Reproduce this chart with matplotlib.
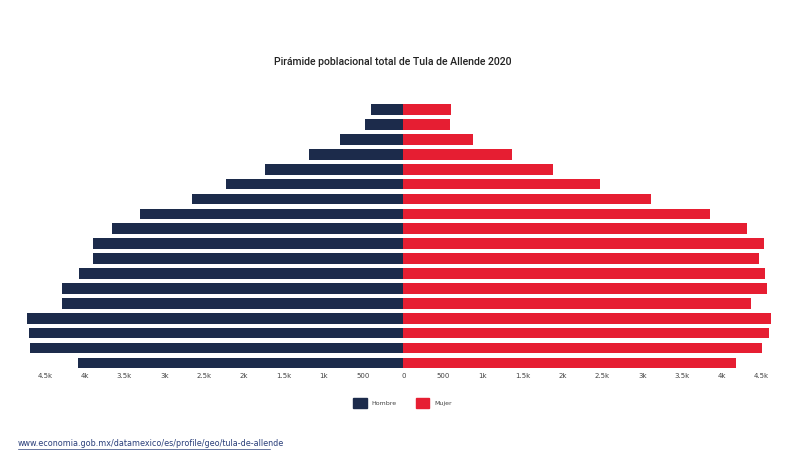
import matplotlib
matplotlib.use("Agg")
import matplotlib.pyplot as plt
from matplotlib.patches import Patch
from matplotlib.lines import Line2D

# age groups, bottom (youngest) to top (oldest)
ages = ["0-4", "5-9", "10-14", "15-19", "20-24", "25-29", "30-34", "35-39",
        "40-44", "45-49", "50-54", "55-59", "60-64", "65-69", "70-74",
        "75-79", "80-84", "85+"]
hombre = [4090, 4690, 4700, 4720, 4290, 4280, 4070, 3900, 3890, 3660,
          3300, 2650, 2230, 1735, 1190, 793, 484, 400]
mujer = [4180, 4500, 4590, 4610, 4370, 4560, 4540, 4470, 4530, 4310,
         3850, 3110, 2470, 1880, 1360, 870, 580, 600]

ticks = [-4500, -4000, -3500, -3000, -2500, -2000, -1500, -1000, -500, 0,
         500, 1000, 1500, 2000, 2500, 3000, 3500, 4000, 4500]
tick_labels = ["4.5k", "4k", "3.5k", "3k", "2.5k", "2k", "1.5k", "1k", "500", "0",
               "500", "1k", "1.5k", "2k", "2.5k", "3k", "3.5k", "4k", "4.5k"]

c_hombre = "#1c2b4b"
c_mujer = "#e61e32"

fig = plt.figure(figsize=(8.05, 4.73), dpi=100)
ax = fig.add_axes([0.031, 0.217, 0.940, 0.567])

y = range(len(ages))
ax.barh(y, [-v for v in hombre], height=0.72, color=c_hombre)
ax.barh(y, mujer, height=0.72, color=c_mujer)

ax.set_xlim(-4750, 4750)
ax.set_ylim(-0.5, len(ages) - 0.5)
ax.set_xticks(ticks)
ax.set_xticklabels(tick_labels, fontsize=5, color="#444444")
ax.set_yticks([])
ax.tick_params(axis="x", length=0, pad=2)
for s in ax.spines.values():
    s.set_visible(False)

fig.text(0.488, 0.869, "Pirámide poblacional total de Tula de Allende 2020",
         ha="center", va="center", fontsize=7.6, fontfamily="Roboto",
         fontweight="medium", color="#222222")

handles = [Patch(color=c_hombre, label="Hombre"), Patch(color=c_mujer, label="Mujer")]
fig.legend(handles=handles, loc="center", bbox_to_anchor=(0.5, 0.148), ncol=2,
           frameon=False, fontsize=4.5, handlelength=2.2, handleheight=2.2,
           columnspacing=3, handletextpad=0.8, labelcolor="#444444")

src = "www.economia.gob.mx/datamexico/es/profile/geo/tula-de-allende"
fig.text(0.022, 0.053, src, ha="left", va="bottom", fontsize=5.8, color="#2a3f7a")
fig.add_artist(Line2D([0.022, 0.335], [0.050, 0.050], color="#2a3f7a", lw=0.5))

fig.savefig("out.png", dpi=100, facecolor="white")
